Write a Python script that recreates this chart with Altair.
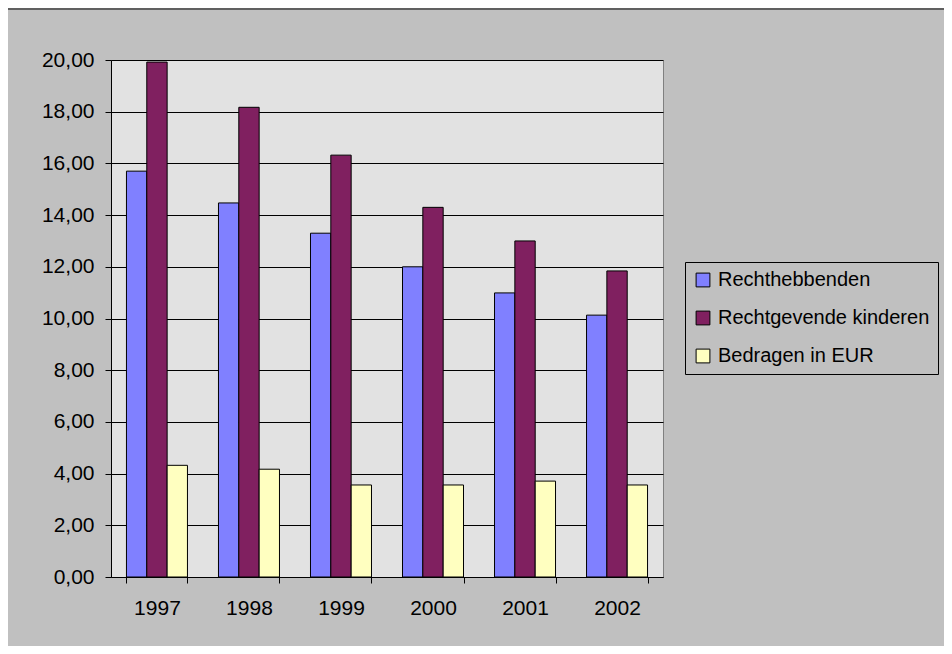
import altair as alt
import pandas as pd

years = ["1997", "1998", "1999", "2000", "2001", "2002"]
series = ["Rechthebbenden", "Rechtgevende kinderen", "Bedragen in EUR"]
rechthebbenden = [15.70, 14.47, 13.30, 12.00, 10.99, 10.13]
kinderen = [19.92, 18.17, 16.32, 14.30, 13.00, 11.84]
bedragen = [4.32, 4.17, 3.56, 3.56, 3.71, 3.56]
colors = ["#8080ff", "#802060", "#ffffc0"]
y_ticks = [0, 2, 4, 6, 8, 10, 12, 14, 16, 18, 20]

rows = []
for name, vals in zip(series, [rechthebbenden, kinderen, bedragen]):
    for yr, v in zip(years, vals):
        rows.append({"jaar": yr, "reeks": name, "waarde": v})
df = pd.DataFrame(rows)

W, H = 552, 517
PL, PT, PR, PB = 103, 52, 281, 69
FONT = "Liberation Sans"
FS = 21

frame = alt.Chart(pd.DataFrame({"k": [0]})).mark_rect(
    fillOpacity=0, stroke="black", strokeWidth=1
).encode(
    x=alt.value(-PL - 1), x2=alt.value(2000),
    y=alt.value(-PT + 1), y2=alt.value(2000),
)

bars = alt.Chart(df).mark_bar(stroke="black", strokeWidth=1).encode(
    x=alt.X(
        "jaar:N", sort=years,
        scale=alt.Scale(paddingInner=0.337, paddingOuter=0.168),
        axis=alt.Axis(title=None, labelAngle=0, tickBand="extent",
                      tickSize=6, labelPadding=14, grid=False),
    ),
    xOffset=alt.XOffset("reeks:N", sort=series,
                        scale=alt.Scale(paddingInner=0, paddingOuter=0)),
    y=alt.Y(
        "waarde:Q",
        scale=alt.Scale(domain=[0, 20], nice=False),
        axis=alt.Axis(title=None, values=y_ticks, tickSize=6, labelPadding=11,
                      grid=True,
                      labelExpr="replace(format(datum.value, '.2f'), '.', ',')"),
    ),
    color=alt.Color(
        "reeks:N", sort=series,
        scale=alt.Scale(domain=series, range=colors),
        legend=alt.Legend(
            title=None, orient="none", legendX=574, legendY=202,
            strokeColor="black", fillColor="#c0c0c0", padding=8,
            symbolType="square", symbolSize=190, symbolStrokeColor="black",
            symbolStrokeWidth=1, labelFontSize=20, labelFont=FONT,
            labelColor="black", rowPadding=18, labelOffset=5, labelLimit=0,
        ),
    ),
)

chart = alt.layer(frame, bars).properties(
    width=W, height=H,
    background="#c0c0c0",
    padding={"left": PL, "top": PT, "right": PR, "bottom": PB},
    autosize=alt.AutoSizeParams(type="none"),
).configure_view(
    fill="#e2e2e2", stroke="#808080", strokeWidth=1,
).configure_axis(
    domainColor="black", tickColor="black", gridColor="black",
    labelColor="black", labelFont=FONT, labelFontSize=FS,
    domainWidth=1, tickWidth=1, gridWidth=1, gridOpacity=1,
)

chart.save("out.html", embed_options={"renderer": "svg", "actions": False})
